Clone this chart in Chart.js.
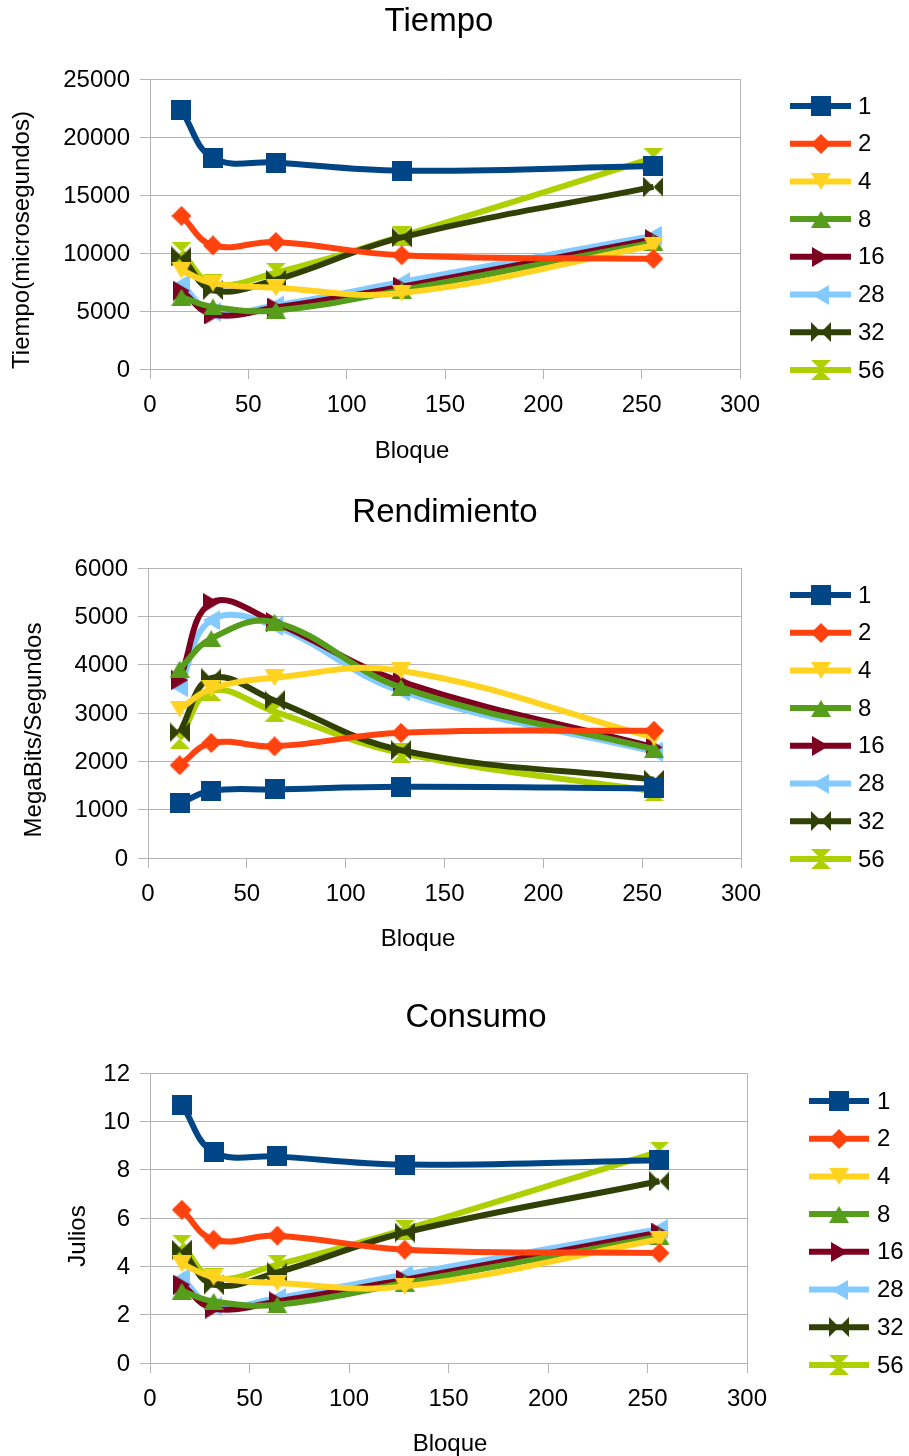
<!DOCTYPE html>
<html><head><meta charset="utf-8">
<script src="https://cdn.jsdelivr.net/npm/chart.js@4.4.1/dist/chart.umd.min.js"></script>
<style>
html,body{margin:0;padding:0;background:#fff;}
#wrap{position:relative;width:909px;height:1456px;overflow:hidden;background:#fff;}
#wrap canvas{position:absolute;left:0;}
</style></head><body>
<div id="wrap">
<canvas id="c1" width="909" height="480" style="top:0px;width:909px;height:480px"></canvas>
<canvas id="c2" width="909" height="495" style="top:480px;width:909px;height:495px"></canvas>
<canvas id="c3" width="909" height="481" style="top:975px;width:909px;height:481px"></canvas>
</div>
<script>
// ---- data ----
const bloques = [16, 32, 64, 128, 256];
const seriesNames = ['1', '2', '4', '8', '16', '28', '32', '56'];
const xTickValues = [0, 50, 100, 150, 200, 250, 300];

const tiempo = [
  [22300, 18200, 17800, 17100, 17500],
  [13200, 10650, 10950, 9800, 9500],
  [8500, 7400, 7000, 6550, 10650],
  [6200, 5350, 5050, 6800, 10900],
  [6750, 4700, 5300, 7100, 11200],
  [7300, 4900, 5500, 7500, 11500],
  [9700, 6800, 7700, 11350, 15700],
  [10100, 7350, 8300, 11450, 18200]
];
const rendimiento = [
  [1130, 1390, 1420, 1475, 1440],
  [1920, 2380, 2310, 2590, 2635],
  [3080, 3500, 3730, 3875, 2490],
  [3910, 4540, 4880, 3530, 2250],
  [3680, 5280, 4880, 3650, 2290],
  [3530, 4920, 4800, 3450, 2200],
  [2600, 3720, 3260, 2230, 1620],
  [2470, 3460, 3030, 2170, 1380]
];
const consumo = [
  [10.69, 8.73, 8.55, 8.21, 8.39],
  [6.34, 5.10, 5.27, 4.69, 4.55],
  [4.10, 3.55, 3.31, 3.17, 5.12],
  [2.97, 2.55, 2.41, 3.31, 5.24],
  [3.24, 2.25, 2.55, 3.45, 5.40],
  [3.52, 2.34, 2.69, 3.65, 5.55],
  [4.69, 3.24, 3.75, 5.40, 7.52],
  [4.90, 3.52, 4.07, 5.52, 8.75]
];

// ---- styles ----
const colors = ['#004586', '#ff420e', '#ffd320', '#579d1c', '#7e0021', '#83caff', '#314004', '#aecf00'];
const FONT = "'Liberation Sans', Arial, sans-serif";
const gridColor = '#b3b3b3';

function mk(w, h, color, draw) {
  const c = document.createElement('canvas');
  c.width = w; c.height = h;
  const g = c.getContext('2d');
  g.fillStyle = color;
  g.beginPath();
  draw(g, w, h);
  g.fill();
  return c;
}
const shapes = [
  (g, w, h) => { g.rect(0, 0, w, h); },
  (g, w, h) => { g.moveTo(w / 2, 0); g.lineTo(w, h / 2); g.lineTo(w / 2, h); g.lineTo(0, h / 2); g.closePath(); },
  (g, w, h) => { g.moveTo(0, 0); g.lineTo(w, 0); g.lineTo(w / 2, h); g.closePath(); },
  (g, w, h) => { g.moveTo(w / 2, 0); g.lineTo(w, h); g.lineTo(0, h); g.closePath(); },
  (g, w, h) => { g.moveTo(0, 0); g.lineTo(w, h / 2); g.lineTo(0, h); g.closePath(); },
  (g, w, h) => { g.moveTo(w, 0); g.lineTo(0, h / 2); g.lineTo(w, h); g.closePath(); },
  (g, w, h) => { g.moveTo(0, 0); g.lineTo(w / 2, h / 2); g.lineTo(0, h); g.closePath(); g.moveTo(w, 0); g.lineTo(w / 2, h / 2); g.lineTo(w, h); g.closePath(); },
  (g, w, h) => { g.moveTo(0, 0); g.lineTo(w, 0); g.lineTo(w / 2, h / 2); g.closePath(); g.moveTo(0, h); g.lineTo(w, h); g.lineTo(w / 2, h / 2); g.closePath(); }
];
const sizes = [[20, 20], [20, 20], [20, 17], [20, 17], [17, 20], [17, 20], [20, 20], [20, 20]];
const markers = colors.map((c, i) => mk(sizes[i][0], sizes[i][1], c, shapes[i]));

const decor = {
  id: 'decor',
  beforeDatasetsDraw(chart, args, o) {
    const { ctx, chartArea: a } = chart;
    ctx.save();
    ctx.strokeStyle = gridColor; ctx.lineWidth = 1;
    ctx.beginPath();
    ctx.moveTo(Math.round(a.right) + 0.5, a.top);
    ctx.lineTo(Math.round(a.right) + 0.5, a.bottom);
    ctx.stroke();
    ctx.restore();
  },
  afterDraw(chart, args, o) {
    const { ctx } = chart;
    ctx.save();
    ctx.fillStyle = '#000';
    ctx.textBaseline = 'middle';
    ctx.textAlign = 'center';
    ctx.font = '33px ' + FONT;
    ctx.fillText(o.title, o.titleX, o.titleY);
    ctx.font = '24px ' + FONT;
    ctx.fillText(o.xTitle, o.xTitleX, o.xTitleY);
    ctx.save();
    ctx.translate(o.yTitleX, o.yTitleY);
    ctx.rotate(-Math.PI / 2);
    ctx.fillText(o.yTitle, 0, 0);
    ctx.restore();
    // legend
    chart.data.datasets.forEach((ds, i) => {
      const y = o.legY + i * o.legStep;
      ctx.strokeStyle = ds.borderColor;
      ctx.lineWidth = 6;
      ctx.beginPath();
      ctx.moveTo(o.legX1, y); ctx.lineTo(o.legX2, y);
      ctx.stroke();
      const m = ds.pointStyle;
      ctx.drawImage(m, Math.round((o.legX1 + o.legX2) / 2 - m.width / 2), Math.round(y - m.height / 2));
      ctx.textAlign = 'left';
      ctx.font = '24px ' + FONT;
      ctx.fillText(ds.label, o.legTextX, y + 1);
    });
    ctx.restore();
  }
};

function makeChart(id, values, cfg) {
  const datasets = values.map((vals, i) => ({
    label: seriesNames[i],
    data: bloques.map((b, j) => ({ x: b, y: vals[j] })),
    borderColor: colors[i],
    backgroundColor: colors[i],
    borderWidth: 6,
    tension: 0.4,
    pointStyle: markers[i],
    pointRadius: 10,
    pointHoverRadius: 10,
    fill: false
  }));
  const tickFont = { family: FONT, size: 24 };
  return new Chart(document.getElementById(id), {
    type: 'line',
    data: { datasets },
    options: {
      responsive: false,
      animation: false,
      events: [],
      layout: { padding: { left: 0, top: cfg.top, right: 909 - cfg.right, bottom: 0 } },
      plugins: {
        legend: { display: false },
        tooltip: { enabled: false },
        title: { display: false },
        decor: cfg.decor
      },
      scales: {
        x: {
          type: 'linear', min: 0, max: 300,
          afterBuildTicks: s => { s.ticks = xTickValues.map(v => ({ value: v })); },
          ticks: { color: '#000', font: tickFont, padding: 12, maxRotation: 0, callback: v => String(v) },
          grid: { drawOnChartArea: false, drawTicks: true, tickLength: 10, color: gridColor },
          border: { display: true, color: gridColor },
          afterFit: s => { s.height = cfg.h - cfg.bottom; s.paddingLeft = 0; s.paddingRight = 0; }
        },
        y: {
          type: 'linear', min: 0, max: cfg.max,
          afterBuildTicks: s => { s.ticks = cfg.yTicks.map(v => ({ value: v })); },
          ticks: { color: '#000', font: tickFont, padding: 10, labelOffset: 1, callback: v => String(v) },
          grid: { color: gridColor, tickLength: 10 },
          border: { display: true, color: gridColor },
          afterFit: s => { s.width = cfg.left; s.paddingTop = 0; s.paddingBottom = 0; }
        }
      }
    },
    plugins: [decor]
  });
}

makeChart('c1', tiempo, {
  top: 79, bottom: 369, left: 150, right: 740, h: 480, max: 25000,
  yTicks: [0, 5000, 10000, 15000, 20000, 25000],
  decor: { title: 'Tiempo', titleX: 439, titleY: 22, xTitle: 'Bloque', xTitleX: 412, xTitleY: 451,
    yTitle: 'Tiempo(microsegundos)', yTitleX: 22, yTitleY: 240,
    legX1: 790, legX2: 851, legTextX: 858, legY: 106, legStep: 37.7 }
});
makeChart('c2', rendimiento, {
  top: 88, bottom: 378, left: 148, right: 741, h: 495, max: 6000,
  yTicks: [0, 1000, 2000, 3000, 4000, 5000, 6000],
  decor: { title: 'Rendimiento', titleX: 445, titleY: 33, xTitle: 'Bloque', xTitleX: 418, xTitleY: 459,
    yTitle: 'MegaBits/Segundos', yTitleX: 34, yTitleY: 250,
    legX1: 790, legX2: 851, legTextX: 858, legY: 115, legStep: 37.7 }
});
makeChart('c3', consumo, {
  top: 98, bottom: 388, left: 150, right: 747, h: 481, max: 12,
  yTicks: [0, 2, 4, 6, 8, 10, 12],
  decor: { title: 'Consumo', titleX: 476, titleY: 43, xTitle: 'Bloque', xTitleX: 450, xTitleY: 469,
    yTitle: 'Julios', yTitleX: 78, yTitleY: 261,
    legX1: 809, legX2: 869, legTextX: 877, legY: 126, legStep: 37.7 }
});
</script>
</body></html>
